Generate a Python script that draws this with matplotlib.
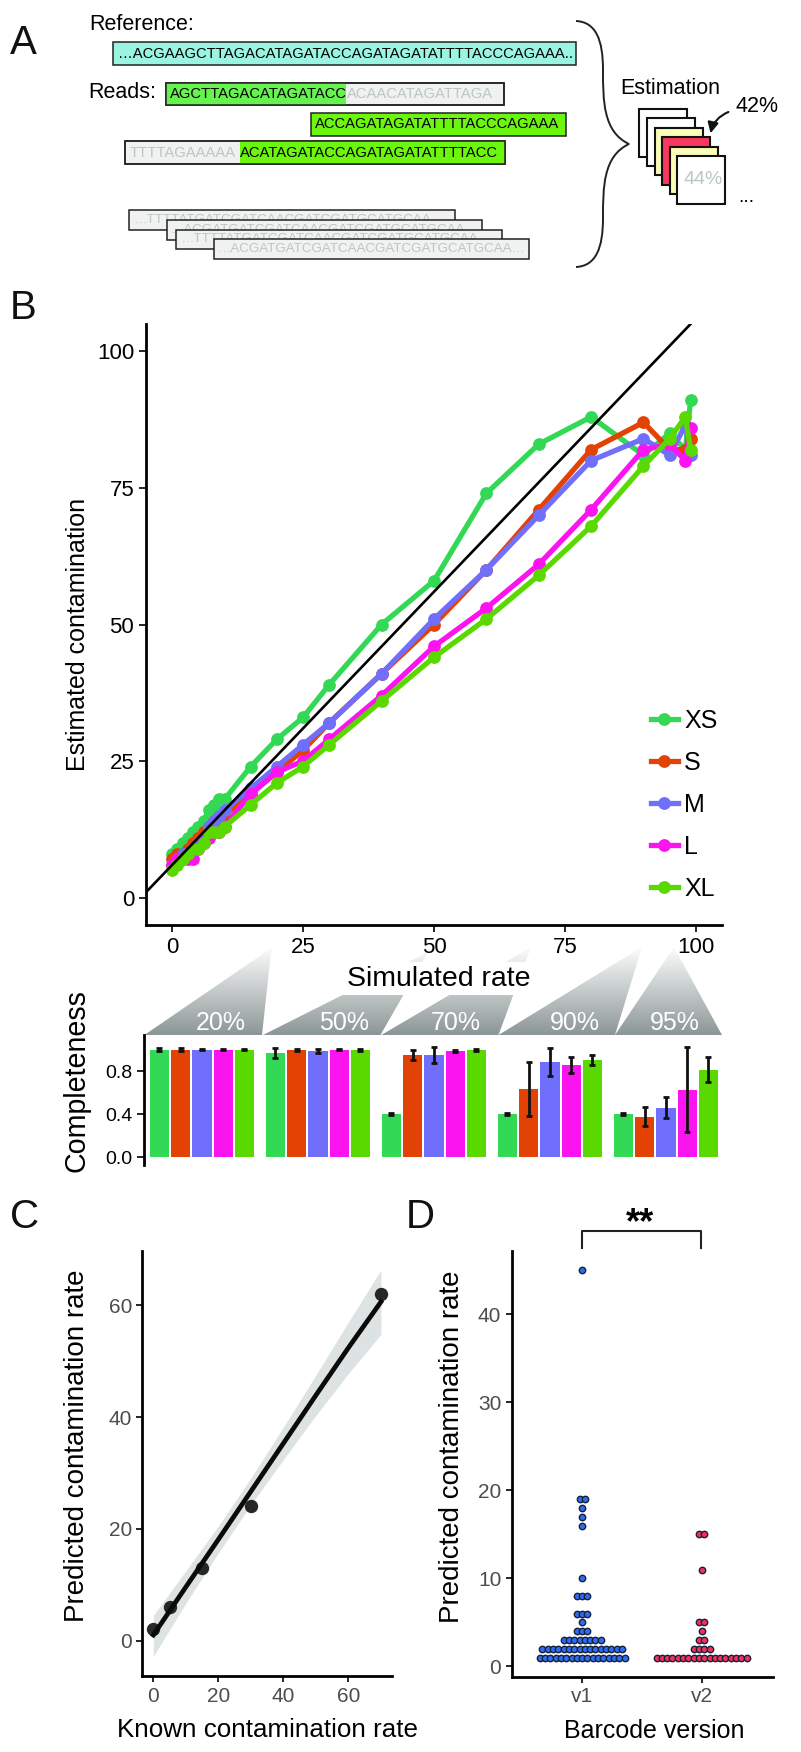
#!/usr/bin/env python

import numpy as np
import matplotlib
matplotlib.use('Agg')
import matplotlib.pyplot as plt
from matplotlib.patches import Rectangle, PathPatch, Polygon, FancyArrowPatch
from matplotlib.path import Path

W, H = 801, 1752
plt.rcParams['font.family'] = ['Liberation Sans', 'DejaVu Sans']

# panel B
rates = [0, 1, 2, 3, 4, 5, 6, 7, 8, 9, 10, 15, 20, 25, 30, 40, 50, 60, 70, 80, 90, 95, 98, 99]
size_names = ['XS', 'S', 'M', 'L', 'XL']
est_xs = [8, 9, 10, 11, 12, 13, 14, 16, 17, 18, 18, 24, 29, 33, 39, 50, 58, 74, 83, 88, 81, 85, 82, 91]
est_s = [7, 8, 8, 9, 10, 11, 12, 13, 14, 14, 15, 19, 23, 27, 32, 41, 50, 60, 71, 82, 87, 82, 82, 84]
est_m = [6, 7, 8, 8, 9, 10, 11, 13, 14, 15, 16, 20, 24, 28, 32, 41, 51, 60, 70, 80, 84, 81, 86.5, 81]
est_l = [6, 7, 7, 7, 7, 9, 10, 11, 12, 12, 13, 19, 23, 25, 29, 37, 46, 53, 61, 71, 82, 83, 80, 86]
est_xl = [5, 6, 7, 8, 9, 9, 10, 12, 12, 12, 13, 17, 21, 24, 28, 36, 44, 51, 59, 68, 79, 84, 88, 82]
size_colors = ['#33d955', '#e34205', '#6f6ffb', '#fb14f0', '#5ad900']

# completeness bars
facet_names = ['20%', '50%', '70%', '90%', '95%']
comp_mean = [[1, 1, 1, 1, 1],
             [0.965, 1, 0.99, 1, 1],
             [0.4, 0.95, 0.945, 0.99, 1],
             [0.4, 0.63, 0.885, 0.855, 0.90],
             [0.4, 0.37, 0.455, 0.62, 0.81]]
comp_low = [[0.99, 0.99, 0.995, 0.995, 0.995],
            [0.92, 0.99, 0.97, 0.995, 0.99],
            [0.395, 0.907, 0.87, 0.98, 0.99],
            [0.395, 0.385, 0.758, 0.786, 0.857],
            [0.395, 0.286, 0.36, 0.233, 0.696]]
comp_high = [[1.01, 1.01, 1.005, 1.005, 1.005],
             [1.015, 1.005, 1.005, 1.005, 1.005],
             [0.405, 1.0, 1.02, 1.0, 1.005],
             [0.405, 0.888, 1.015, 0.93, 0.953],
             [0.405, 0.466, 0.559, 1.025, 0.929]]

# panel C
known_x = [0, 5, 15, 30, 70]
known_y = [2, 6, 13, 24, 62]
fit_x = [0, 10, 20, 30, 40, 50, 60, 70]
fit_y = [1, 9.6, 18.1, 26.7, 35.3, 43.9, 52.4, 60.6]
fit_lo = [-2.8, 6.7, 15.7, 24.3, 32.4, 40.3, 47.8, 54.8]
fit_hi = [4.5, 12.5, 20.5, 29.1, 38.2, 47.5, 57, 66.3]

# panel D: rate value, how many samples sit on it
v1_rates = [1, 2, 3, 4, 5, 6, 8, 10, 16, 17, 18, 19, 45]
v1_counts = [17, 16, 8, 3, 1, 3, 3, 1, 1, 1, 1, 2, 1]
v2_rates = [1, 2, 3, 4, 5, 11, 15]
v2_counts = [18, 4, 2, 1, 2, 1, 2]


def add_ax(x0, y0, x1, y1):
    # pixel box of the picture, y going down
    return fig.add_axes([x0 / W, 1 - y1 / H, (x1 - x0) / W, (y1 - y0) / H])


def classic(ax, lw=2.0):
    ax.spines['top'].set_visible(False)
    ax.spines['right'].set_visible(False)
    ax.spines['left'].set_linewidth(lw)
    ax.spines['bottom'].set_linewidth(lw)


fig = plt.figure(figsize=(W / 100, H / 100), dpi=100)

# overlay in picture pixels for the schematic bits
bg = fig.add_axes([0, 0, 1, 1], zorder=0)
bg.set_xlim(0, W)
bg.set_ylim(H, 0)
bg.axis('off')


def box(x0, y0, x1, y1, color, edge='#222222', lw=1.1, z=2):
    bg.add_patch(Rectangle((x0, y0), x1 - x0, y1 - y0, facecolor=color, edgecolor=edge, lw=lw, zorder=z))


def seq(x, y, s, color='black', size=10.6, z=3, ha='left'):
    return bg.text(x, y, s, color=color, fontsize=size, va='center', ha=ha, zorder=z)


for letter, x, y in [('A', 10, 43), ('B', 10, 308), ('C', 10, 1217), ('D', 406, 1217)]:
    bg.text(x, y, letter, fontsize=29, va='center', ha='left', color='#111111')

GREEN1, GREEN2, GRAYBOX, GRAYTXT = '#66f24f', '#6cf50f', '#f0f1f1', '#bcc6c4'

bg.text(89, 25, 'Reference:', fontsize=15.5, va='center')
bg.text(88, 93, 'Reads:', fontsize=15.5, va='center')
box(113.4, 42.3, 576.4, 65, '#99f5e1')
seq(118, 53.5, '\u2026ACGAAGCTTAGACATAGATACCAGATAGATATTTTACCCAGAAA..')

box(165.6, 82.7, 504.4, 105.3, GRAYBOX)
box(165.6, 82.7, 346, 105.3, GREEN1, edge='none', lw=0)
box(165.6, 82.7, 504.4, 105.3, 'none')
seq(170, 94, 'AGCTTAGACATAGATACC')
seq(347, 94, 'ACAACATAGATTAGA', color=GRAYTXT)

box(311, 112.7, 565.7, 135.7, GREEN2)
seq(315, 124, 'ACCAGATAGATATTTTACCCAGAAA')

box(125.2, 141.3, 505, 164, GRAYBOX)
box(240, 141.3, 505, 164, GREEN2, edge='none', lw=0)
box(125.2, 141.3, 505, 164, 'none')
seq(129.5, 153, 'TTTTAGAAAAA', color=GRAYTXT)
seq(240, 153, 'ACATAGATACCAGATAGATATTTTACC')

stack = [(128.8, 210.3, 454.8, 230.3, '\u2026TTTTATGATCGATCAACGATCGATGCATGCAA\u2026'),
         (166.6, 220.3, 482.4, 240, '\u2026ACGATGATCGATCAACGATCGATGCATGCAA\u2026'),
         (175.8, 229.7, 501.8, 249.3, '\u2026TTTTATGATCGATCAACGATCGATGCATGCAA\u2026'),
         (213.6, 239.3, 529.4, 259.3, '\u2026ACGATGATCGATCAACGATCGATGCATGCAA\u2026')]
for i, (x0, y0, x1, y1, s) in enumerate(stack):
    box(x0, y0, x1, y1, GRAYBOX, z=2 + 2 * i)
    seq(x0 + 4, (y0 + y1) / 2, s, color=GRAYTXT, z=3 + 2 * i, size=9.6)

# curly brace
brace = Path([(576, 21), (596, 22), (603, 40), (603, 70),
              (603, 100), (603, 132), (629, 144),
              (603, 156), (603, 188), (603, 218),
              (603, 248), (596, 266), (576, 267)],
             [Path.MOVETO, Path.CURVE4, Path.CURVE4, Path.CURVE4,
              Path.CURVE4, Path.CURVE4, Path.CURVE4,
              Path.CURVE4, Path.CURVE4, Path.CURVE4,
              Path.CURVE4, Path.CURVE4, Path.CURVE4])
bg.add_patch(PathPatch(brace, facecolor='none', edgecolor='#222222', lw=1.4))

bg.text(620, 88, 'Estimation', fontsize=15.5, va='center')
cards = [(639.2, 109, 'white'), (647.4, 118, 'white'), (655, 127.7, '#fbfcb8'),
         (662, 137, '#f9385f'), (670, 146.7, '#fbfcb8'), (677, 156.3, 'white')]
for i, (x, y, c) in enumerate(cards):
    box(x, y, x + 47.6, y + 47.7, c, edge='#111111', lw=1.5, z=2 + i)
bg.text(703.5, 180, '44%', fontsize=14, color=GRAYTXT, ha='center', va='center', zorder=10)
bg.text(736, 107, '42%', fontsize=15.5, va='center')
bg.text(738, 198, '...', fontsize=14, ha='left', va='center')
bg.add_patch(FancyArrowPatch((731, 111), (710, 136), connectionstyle='arc3,rad=0.3',
                             arrowstyle='-|>', mutation_scale=16, color='#111111', lw=1.5, zorder=10))

# gradient wedges between B and the bars
wedges = [[(144.4, 1035), (262, 1035), (271.5, 948)],
          [(263, 1035), (380.5, 1035), (428, 952)],
          [(381.3, 1035), (498.5, 1035), (531, 947)],
          [(498.5, 1035), (615, 1035), (642, 947)],
          [(615, 1035), (722, 1035), (674, 947)]]
ramp = np.linspace(0, 1, 256).reshape(-1, 1)
for w in wedges:
    im = bg.imshow(ramp, extent=(140, 725, 1035, 945), aspect='auto', zorder=1,
                   cmap=matplotlib.colors.LinearSegmentedColormap.from_list('g', ['white', '#8c9696']),
                   vmin=0, vmax=1)
    im.set_clip_path(Polygon(w, transform=bg.transData))
bg.set_xlim(0, W)
bg.set_ylim(H, 0)
bg.add_patch(Rectangle((340, 962), 186, 33, facecolor='white', edgecolor='none', zorder=1.5))
for cx, name in zip([221, 344.5, 456, 575, 675], facet_names):
    bg.text(cx, 1023, name, color='white', fontsize=18, ha='center', va='center', zorder=3)

# panel B
ax = add_ax(146, 324, 722, 925)
ax.patch.set_alpha(0)
classic(ax)
for vals, name, col in zip([est_xs, est_s, est_m, est_l, est_xl], size_names, size_colors):
    ax.plot(rates, vals, '-o', color=col, lw=3.8, ms=9.2, mew=0, label=name)
ax.plot([-5, 99], [1, 105], color='black', lw=1.9, zorder=5)
ax.set_xlim(-5, 105)
ax.set_ylim(-5, 105)
ax.set_xticks([0, 25, 50, 75, 100])
ax.set_yticks([0, 25, 50, 75, 100])
ax.tick_params(labelsize=16, width=1.2, length=5)
ax.set_ylabel('Estimated contamination', fontsize=18, labelpad=5)
ax.yaxis.label.set_y(0.484)
ax.legend(loc='lower right', bbox_to_anchor=(0.992, 0.04), frameon=False, fontsize=18,
          handlelength=1.1, labelspacing=0.72, handletextpad=0.24, borderpad=0, borderaxespad=0)
bg.text(439, 979, 'Simulated rate', fontsize=20.5, ha='center', va='center', zorder=3)

# completeness
ax2 = add_ax(144.4, 1035, 722, 1165)
ax2.patch.set_alpha(0)
classic(ax2)
ax2.spines['bottom'].set_visible(False)
step, width, pitch = 21.3, 19.3, 116
for g in range(5):
    xs = g * pitch + np.arange(5) * step
    low = np.array(comp_low[g])
    high = np.array(comp_high[g])
    ax2.bar(xs, comp_mean[g], width=width, color=size_colors, linewidth=0)
    ax2.vlines(xs, low, high, color='#111111', lw=2)
    ax2.plot(xs, low, ls='none', marker='_', color='#111111', ms=4, mew=2)
    ax2.plot(xs, high, ls='none', marker='_', color='#111111', ms=4, mew=2)
# x axis has no ticks, it is held in pixels of the picture
ax2.set_xlim(144.4 - 149.6 - width / 2 + 0, 722 - 149.6 - width / 2)
ax2.set_xticks([])
ax2.set_ylim(-0.074, 1.135)
ax2.set_yticks([0, 0.4, 0.8])
ax2.set_yticklabels(['0.0', '0.4', '0.8'])
ax2.tick_params(labelsize=14, width=1.2, length=5)
ax2.set_ylabel('Completeness', fontsize=20.6)
ax2.yaxis.set_label_coords(-0.0925, 0.646)

# panel C
ax3 = add_ax(142.3, 1251, 392, 1676.4)
classic(ax3)
ax3.fill_between(fit_x, fit_lo, fit_hi, color='#dde2e2', lw=0, zorder=1)
ax3.plot(known_x, known_y, 'o', color='#1c1c1c', ms=9.6, mew=0, zorder=2, alpha=0.95)
ax3.plot(fit_x, fit_y, color='#0a0a0a', lw=3.4, zorder=3)
ax3.set_xlim(-3.4, 73.4)
ax3.set_ylim(-6.4, 69.7)
ax3.set_xticks([0, 20, 40, 60])
ax3.set_yticks([0, 20, 40, 60])
ax3.tick_params(labelsize=15, width=1.2, length=4, labelcolor='#4d4d4d')
ax3.set_xlabel('Known contamination rate', fontsize=18.7, labelpad=9)
ax3.set_ylabel('Predicted contamination rate', fontsize=20, labelpad=13)
ax3.yaxis.label.set_y(0.5416)

# panel D
ax4 = add_ax(511.7, 1251, 773, 1677)
classic(ax4)


def dots(ax, center, rate_vals, counts, color, gap):
    for r, n in zip(rate_vals, counts):
        xs = center + gap * (np.arange(n) - (n - 1) / 2)
        ax.plot(xs, [r] * n, 'o', color=color, ms=4.6, mec='#14203c', mew=1.0, zorder=3)


dots(ax4, 1, v1_rates, v1_counts, '#2f6df0', 0.0444)
dots(ax4, 2, v2_rates, v2_counts, '#f5305a', 0.0444)
ax4.set_xlim(0.41, 2.598)
ax4.set_ylim(-1.2, 47.2)
ax4.set_xticks([1, 2])
ax4.set_xticklabels(['v1', 'v2'])
ax4.set_yticks([0, 10, 20, 30, 40])
ax4.tick_params(labelsize=15, width=1.2, length=4, labelcolor='#4d4d4d')
ax4.set_xlabel('Barcode version', fontsize=18, labelpad=9)
ax4.xaxis.label.set_x(0.545)
ax4.set_ylabel('Predicted contamination rate', fontsize=20, labelpad=9)
ax4.yaxis.label.set_y(0.5416)

# significance bracket
bg.plot([582, 582, 701, 701], [1247.5, 1231, 1231, 1247.5], color='#222222', lw=1.5)
bg.text(640, 1224, '**', fontsize=26, fontweight='bold', ha='center', va='center')

fig.savefig('out.png', dpi=100)
